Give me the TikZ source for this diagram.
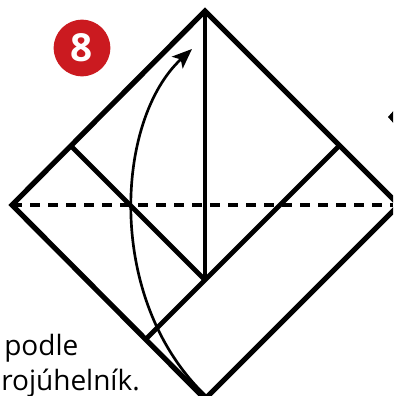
\documentclass[tikz,border=0pt]{standalone}
\usepackage{fontspec}
\setmainfont{Open Sans}
\usetikzlibrary{arrows.meta}
\definecolor{badgered}{HTML}{CB1A20}
\begin{document}
\begin{tikzpicture}[x=0.75pt,y=-0.75pt]
\useasboundingbox (0,0) rectangle (393,396);
\clip (0,0) rectangle (393,396);
% Square standing on its corner
\coordinate (T) at (205,11);
\coordinate (L) at (12,205);
\coordinate (R) at (399,205);
\coordinate (B) at (205,399);
\coordinate (M) at (205,280);
\coordinate (P) at (72,147);
\coordinate (Q) at (338,147);
\coordinate (S) at (147,338);
\coordinate (E) at (393,205);
\coordinate (F) at (206,396);
\coordinate (G) at (192,49);

\draw[line width=3.9pt, line join=miter] (L) -- (T) -- (R) -- (B) -- cycle;
\draw[line width=3.7pt] (P) -- (M);
\draw[line width=3.7pt] (S) -- (Q);
\draw[line width=2.5pt] (T) -- (M);
\draw[line width=2.5pt, dash pattern=on 7.5pt off 6pt] (L) -- (E);
\draw[line width=2pt, -{Stealth[length=15pt,width=12pt,inset=3.5pt]}] (F) .. controls (105,300) and (115,120) .. (G);

% Clipped tip at the right edge
\fill (388,117) -- (396,108) -- (396,126) -- cycle;

\node[circle, fill=badgered, text=white, minimum size=42.5pt, inner sep=0pt, font=\fontsize{29}{29}\selectfont\bfseries] (badge) at (82,48) {8};

\node[anchor=base west, inner sep=0pt, font=\fontsize{21}{21}\selectfont] (podle) at (4,355) {podle};
\node[anchor=base west, inner sep=0pt, font=\fontsize{21}{21}\selectfont] (troj) at (1,390) {rojúhelník.};
\end{tikzpicture}
\end{document}
